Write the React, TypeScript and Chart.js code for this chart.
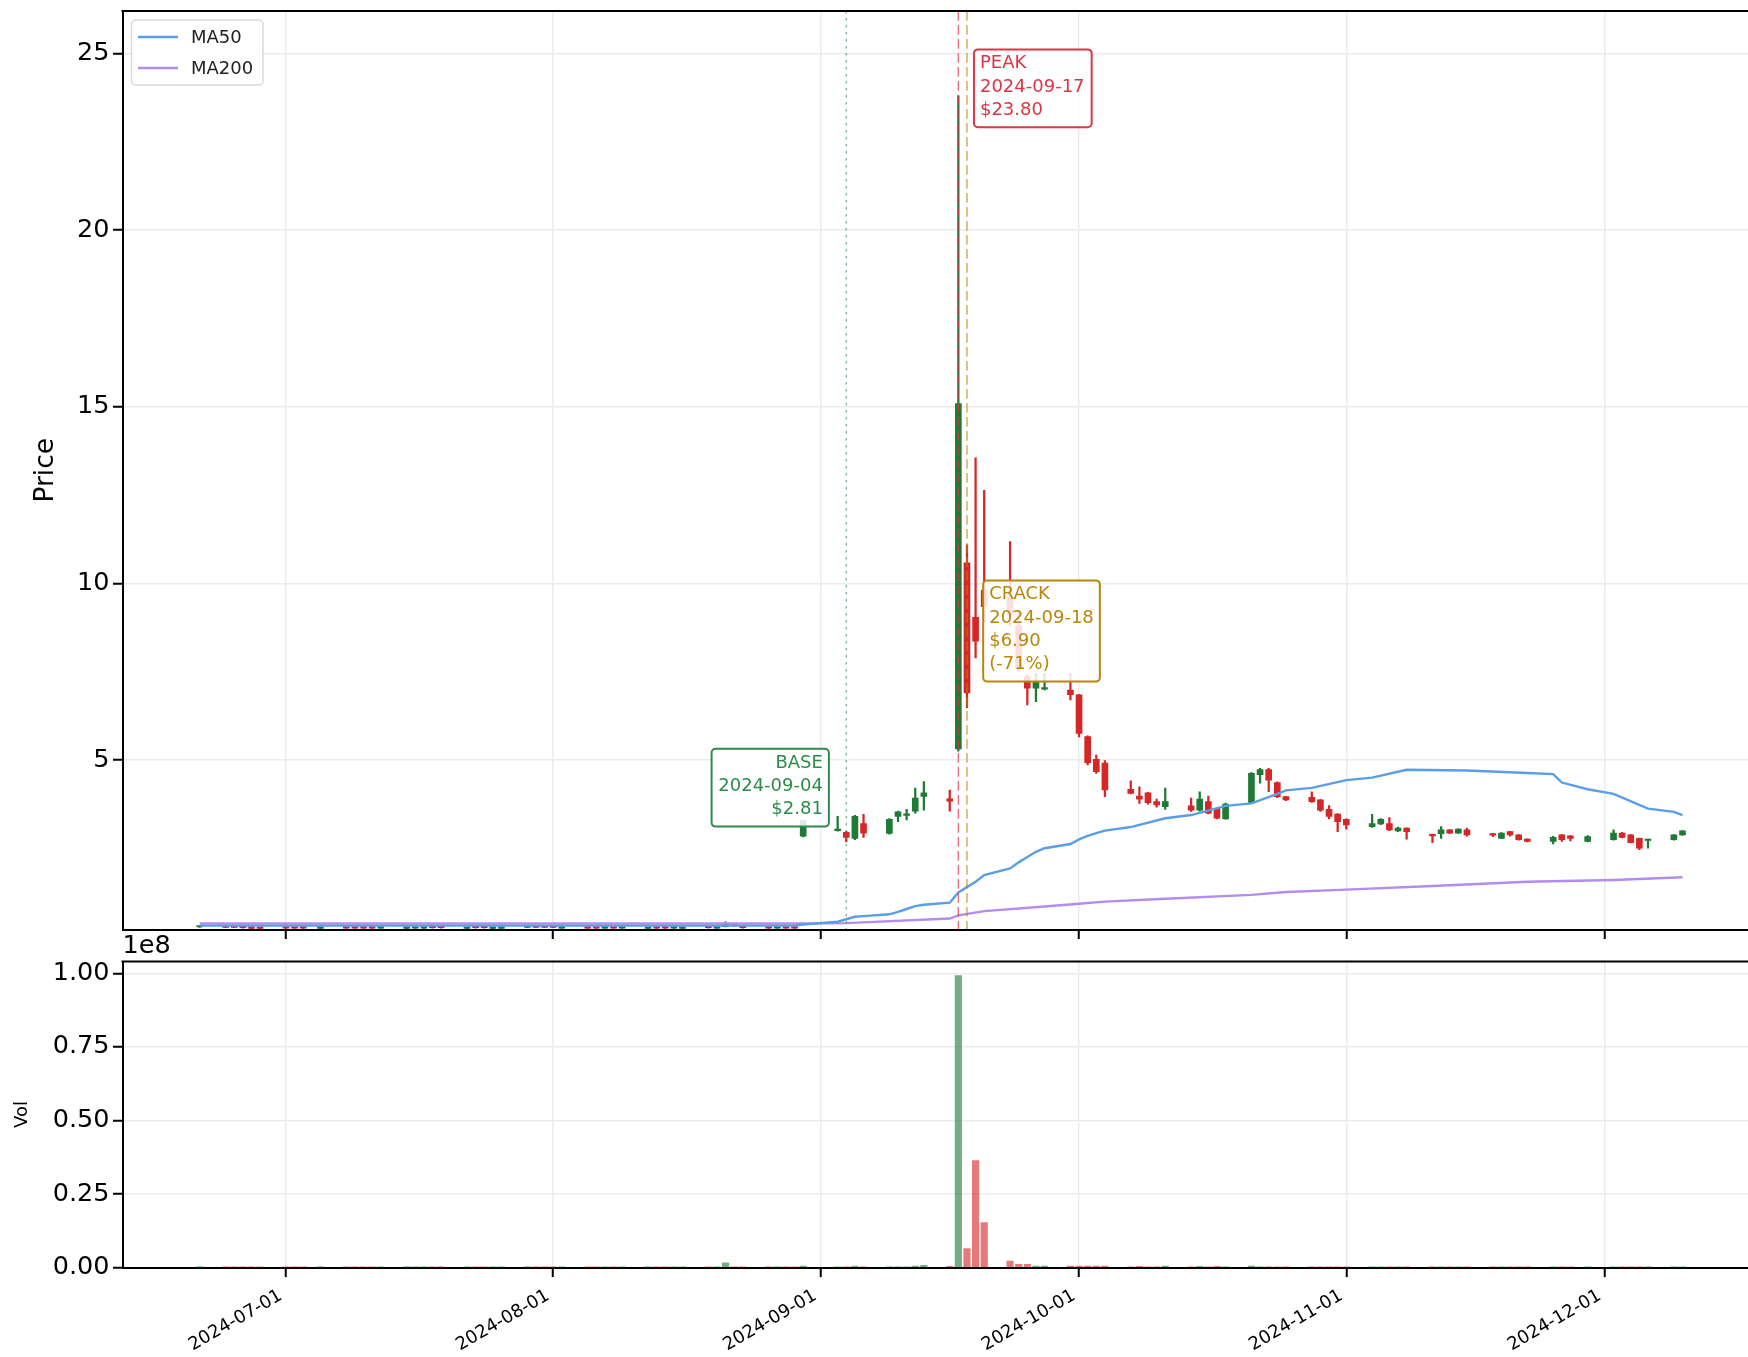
import React, { useEffect, useRef } from 'react';
import { Chart, registerables } from 'chart.js';
Chart.register(...registerables);

const W = 1748;
const H = 1357;
const FONT = "'DejaVu Sans', sans-serif";

// ---------------- data ----------------
const dates = [
  '2024-06-21', '2024-06-24', '2024-06-25', '2024-06-26', '2024-06-27', '2024-06-28',
  '2024-07-01', '2024-07-02', '2024-07-03', '2024-07-05',
  '2024-07-08', '2024-07-09', '2024-07-10', '2024-07-11', '2024-07-12',
  '2024-07-15', '2024-07-16', '2024-07-17', '2024-07-18', '2024-07-19',
  '2024-07-22', '2024-07-23', '2024-07-24', '2024-07-25', '2024-07-26',
  '2024-07-29', '2024-07-30', '2024-07-31', '2024-08-01', '2024-08-02',
  '2024-08-05', '2024-08-06', '2024-08-07', '2024-08-08', '2024-08-09',
  '2024-08-12', '2024-08-13', '2024-08-14', '2024-08-15', '2024-08-16',
  '2024-08-19', '2024-08-20', '2024-08-21', '2024-08-22', '2024-08-23',
  '2024-08-26', '2024-08-27', '2024-08-28', '2024-08-29', '2024-08-30',
  '2024-09-03', '2024-09-04', '2024-09-05', '2024-09-06',
  '2024-09-09', '2024-09-10', '2024-09-11', '2024-09-12', '2024-09-13',
  '2024-09-16', '2024-09-17', '2024-09-18', '2024-09-19', '2024-09-20',
  '2024-09-23', '2024-09-24', '2024-09-25', '2024-09-26', '2024-09-27',
  '2024-09-30', '2024-10-01', '2024-10-02', '2024-10-03', '2024-10-04',
  '2024-10-07', '2024-10-08', '2024-10-09', '2024-10-10', '2024-10-11',
  '2024-10-14', '2024-10-15', '2024-10-16', '2024-10-17', '2024-10-18',
  '2024-10-21', '2024-10-22', '2024-10-23', '2024-10-24', '2024-10-25',
  '2024-10-28', '2024-10-29', '2024-10-30', '2024-10-31', '2024-11-01',
  '2024-11-04', '2024-11-05', '2024-11-06', '2024-11-07', '2024-11-08',
  '2024-11-11', '2024-11-12', '2024-11-13', '2024-11-14', '2024-11-15',
  '2024-11-18', '2024-11-19', '2024-11-20', '2024-11-21', '2024-11-22',
  '2024-11-25', '2024-11-26', '2024-11-27', '2024-11-29',
  '2024-12-02', '2024-12-03', '2024-12-04', '2024-12-05', '2024-12-06',
  '2024-12-09', '2024-12-10',
];

const opens = [
  0.27, 0.28, 0.27, 0.27, 0.27, 0.25,
  0.26, 0.26, 0.26, 0.23,
  0.27, 0.27, 0.26, 0.26, 0.24,
  0.23, 0.24, 0.24, 0.26, 0.26,
  0.23, 0.26, 0.26, 0.23, 0.23,
  0.26, 0.28, 0.27, 0.27, 0.24,
  0.27, 0.26, 0.24, 0.26, 0.24,
  0.23, 0.26, 0.26, 0.24, 0.23,
  0.27, 0.24, 0.28, 0.33, 0.27,
  0.26, 0.24, 0.26, 0.26, 2.84,
  3.00, 2.95, 2.78, 3.20,
  2.92, 3.40, 3.43, 3.55, 3.97,
  3.90, 5.31, 10.58, 9.04, 9.81,
  9.60, 8.80, 7.36, 7.03, 7.00,
  6.98, 6.84, 5.66, 5.02, 4.91,
  4.17, 3.98, 4.07, 3.82, 3.68,
  3.70, 3.58, 3.82, 3.63, 3.33,
  3.79, 4.58, 4.73, 4.36, 3.96,
  3.94, 3.87, 3.60, 3.47, 3.32,
  3.11, 3.19, 3.20, 2.99, 3.07,
  2.89, 2.91, 3.02, 2.93, 3.02,
  2.90, 2.78, 2.97, 2.88, 2.76,
  2.69, 2.88, 2.85, 2.69,
  2.74, 2.93, 2.88, 2.78, 2.72,
  2.74, 2.88,
];

const highs = [
  0.29, 0.29, 0.28, 0.28, 0.28, 0.26,
  0.27, 0.27, 0.27, 0.27,
  0.28, 0.28, 0.27, 0.28, 0.26,
  0.27, 0.27, 0.27, 0.28, 0.28,
  0.27, 0.27, 0.27, 0.27, 0.27,
  0.29, 0.29, 0.28, 0.28, 0.27,
  0.28, 0.27, 0.27, 0.27, 0.26,
  0.26, 0.27, 0.27, 0.26, 0.26,
  0.28, 0.28, 0.42, 0.35, 0.28,
  0.27, 0.26, 0.27, 0.27, 3.30,
  3.40, 2.98, 3.43, 3.46,
  3.34, 3.55, 3.60, 4.20, 4.39,
  4.15, 23.80, 11.09, 13.55, 12.63,
  11.18, 9.20, 7.40, 7.45, 7.45,
  7.45, 6.85, 5.68, 5.14, 4.98,
  4.41, 4.24, 4.08, 3.89, 4.20,
  3.92, 4.10, 3.98, 3.64, 3.78,
  4.64, 4.76, 4.76, 4.38, 3.97,
  4.10, 3.88, 3.71, 3.48, 3.33,
  3.46, 3.34, 3.37, 3.10, 3.08,
  2.90, 3.11, 3.03, 3.05, 3.07,
  2.92, 2.94, 2.98, 2.89, 2.77,
  2.84, 2.89, 2.86, 2.86,
  3.02, 2.95, 2.89, 2.79, 2.76,
  2.89, 3.00,
];

const lows = [
  0.26, 0.25, 0.25, 0.24, 0.22, 0.22,
  0.23, 0.23, 0.23, 0.22,
  0.23, 0.23, 0.23, 0.23, 0.23,
  0.22, 0.23, 0.23, 0.24, 0.24,
  0.22, 0.24, 0.24, 0.22, 0.22,
  0.25, 0.25, 0.25, 0.25, 0.23,
  0.23, 0.23, 0.23, 0.23, 0.23,
  0.22, 0.23, 0.23, 0.23, 0.22,
  0.24, 0.23, 0.27, 0.29, 0.24,
  0.23, 0.23, 0.23, 0.23, 2.82,
  2.98, 2.68, 2.74, 2.81,
  2.90, 3.25, 3.30, 3.49, 3.58,
  3.55, 5.25, 6.48, 7.89, 8.90,
  8.80, 7.50, 6.56, 6.65, 6.98,
  6.70, 5.65, 4.86, 4.62, 3.96,
  4.04, 3.77, 3.75, 3.66, 3.60,
  3.54, 3.55, 3.47, 3.33, 3.32,
  3.78, 4.34, 4.10, 3.93, 3.85,
  3.80, 3.54, 3.33, 2.97, 3.04,
  3.09, 3.17, 3.00, 2.97, 2.76,
  2.66, 2.78, 2.92, 2.92, 2.84,
  2.83, 2.77, 2.84, 2.73, 2.68,
  2.62, 2.69, 2.71, 2.68,
  2.73, 2.79, 2.65, 2.46, 2.50,
  2.73, 2.86,
];

const closes = [
  0.28, 0.26, 0.26, 0.25, 0.23, 0.23,
  0.24, 0.24, 0.24, 0.26,
  0.24, 0.24, 0.24, 0.24, 0.25,
  0.26, 0.26, 0.26, 0.25, 0.25,
  0.26, 0.25, 0.25, 0.26, 0.26,
  0.28, 0.26, 0.26, 0.26, 0.26,
  0.24, 0.24, 0.26, 0.24, 0.25,
  0.25, 0.24, 0.24, 0.25, 0.25,
  0.25, 0.27, 0.36, 0.30, 0.25,
  0.24, 0.25, 0.24, 0.24, 3.28,
  3.03, 2.81, 3.40, 2.93,
  3.32, 3.53, 3.47, 3.92, 4.07,
  3.83, 15.09, 6.90, 8.36, 9.34,
  9.10, 7.60, 7.03, 7.22, 7.05,
  6.85, 5.75, 4.92, 4.67, 4.15,
  4.05, 3.89, 3.79, 3.73, 3.82,
  3.58, 3.89, 3.49, 3.35, 3.75,
  4.62, 4.73, 4.43, 3.96, 3.87,
  3.82, 3.58, 3.40, 3.25, 3.16,
  3.20, 3.32, 3.02, 3.07, 2.97,
  2.85, 3.02, 2.93, 3.04, 2.88,
  2.87, 2.93, 2.88, 2.74, 2.69,
  2.81, 2.74, 2.78, 2.83,
  2.93, 2.81, 2.66, 2.50, 2.75,
  2.88, 2.99,
];

const volumes = [
  60000, 50000, 40000, 50000, 70000, 50000,
  50000, 40000, 40000, 60000,
  50000, 50000, 40000, 40000, 60000,
  50000, 50000, 50000, 40000, 40000,
  60000, 50000, 40000, 50000, 60000,
  50000, 50000, 40000, 40000, 60000,
  50000, 50000, 60000, 40000, 50000,
  60000, 50000, 40000, 50000, 50000,
  50000, 100000, 1600000, 300000, 60000,
  50000, 50000, 40000, 50000, 500000,
  150000, 200000, 500000, 200000,
  200000, 200000, 150000, 500000, 800000,
  400000, 99200000, 6500000, 36400000, 15300000,
  2200000, 1100000, 1100000, 500000, 500000,
  500000, 500000, 500000, 500000, 500000,
  200000, 400000, 200000, 150000, 500000,
  200000, 400000, 200000, 400000, 200000,
  500000, 200000, 150000, 150000, 100000,
  150000, 100000, 80000, 150000, 100000,
  150000, 80000, 100000, 80000, 100000,
  80000, 100000, 80000, 80000, 80000,
  80000, 80000, 80000, 80000, 80000,
  80000, 80000, 80000, 80000,
  80000, 80000, 80000, 100000, 80000,
  80000, 100000,
];

const ma50Dates = [
  '2024-06-21', '2024-07-15', '2024-08-09', '2024-08-29', '2024-08-30', '2024-09-03',
  '2024-09-05', '2024-09-06', '2024-09-09', '2024-09-10', '2024-09-11', '2024-09-12',
  '2024-09-13', '2024-09-16', '2024-09-17', '2024-09-18', '2024-09-19', '2024-09-20',
  '2024-09-23', '2024-09-24', '2024-09-25', '2024-09-26', '2024-09-27', '2024-09-30',
  '2024-10-01', '2024-10-02', '2024-10-03', '2024-10-04', '2024-10-07', '2024-10-11',
  '2024-10-14', '2024-10-18', '2024-10-21', '2024-10-24', '2024-10-25', '2024-10-28',
  '2024-11-01', '2024-11-04', '2024-11-08', '2024-11-15', '2024-11-22', '2024-11-25',
  '2024-11-26', '2024-11-29', '2024-12-02', '2024-12-06', '2024-12-09', '2024-12-10',
];
const ma50Values = [
  0.31, 0.31, 0.31, 0.31, 0.34, 0.42,
  0.56, 0.58, 0.63, 0.70, 0.78, 0.86,
  0.90, 0.96, 1.25, 1.40, 1.55, 1.74,
  1.93, 2.10, 2.25, 2.40, 2.50, 2.62,
  2.75, 2.85, 2.93, 3.00, 3.10, 3.35,
  3.44, 3.70, 3.77, 4.04, 4.14, 4.21,
  4.43, 4.50, 4.72, 4.70, 4.63, 4.60,
  4.36, 4.17, 4.04, 3.62, 3.53, 3.44,
];

const ma200Dates = [
  '2024-06-21', '2024-07-15', '2024-08-09', '2024-08-29', '2024-09-04', '2024-09-16',
  '2024-09-17', '2024-09-20', '2024-09-27', '2024-10-01', '2024-10-04', '2024-10-11',
  '2024-10-21', '2024-10-25', '2024-11-01', '2024-11-11', '2024-11-22', '2024-12-02',
  '2024-12-10',
];
const ma200Values = [
  0.37, 0.37, 0.37, 0.37, 0.38, 0.51,
  0.60, 0.72, 0.85, 0.93, 0.99, 1.07,
  1.18, 1.26, 1.33, 1.43, 1.55, 1.60,
  1.68,
];

const priceTicks = [5, 10, 15, 20, 25];
const volumeTicks = [0, 25000000, 50000000, 75000000, 100000000];
const monthTickDates = ['2024-07-01', '2024-08-01', '2024-09-01', '2024-10-01', '2024-11-01', '2024-12-01'];
const monthTickLabels = ['2024-07-01', '2024-08-01', '2024-09-01', '2024-10-01', '2024-11-01', '2024-12-01'];

const eventNames = ['BASE', 'PEAK', 'CRACK'];
const eventDates = ['2024-09-04', '2024-09-17', '2024-09-18'];
const eventPrices = [2.81, 23.8, 6.9];
const eventNotes = ['', '', '(-71%)'];

const legendLabels = ['MA50', 'MA200'];

// ---------------- styling ----------------
const GREEN = '#1f7a36';
const RED = '#d62728';
const GREEN_VOL = 'rgba(31,122,54,0.62)';
const RED_VOL = 'rgba(214,39,40,0.62)';
const MA50_COLOR = '#5a9ee8';
const MA200_COLOR = '#b48cf0';
const GRID = '#ebebeb';
const EVENT_COLORS = ['#2e8b4a', '#dc3545', '#b8860b'];

const X_MIN = -18.96;
const X_MAX = 169.6;

function dayNum(s: string): number {
  const [y, m, d] = s.split('-').map(Number);
  return (Date.UTC(y, m - 1, d) - Date.UTC(2024, 6, 1)) / 86400000;
}

const monthTickDays = monthTickDates.map(dayNum);

function gridOpts() {
  return {
    color: GRID,
    lineWidth: 1.5,
    drawTicks: true,
    tickLength: 9.5,
    tickColor: '#000',
    tickWidth: 2,
    offset: false,
  };
}

function eventX(chart: any, i: number) {
  return chart.scales.x.getPixelForValue(dayNum(eventDates[i]));
}

function drawBox(ctx: CanvasRenderingContext2D, lines: string[], left: number, top: number, w: number, h: number, align: 'left' | 'right', color: string) {
  ctx.save();
  ctx.beginPath();
  (ctx as any).roundRect(left, top, w, h, 4);
  ctx.fillStyle = 'rgba(255,255,255,0.85)';
  ctx.fill();
  ctx.lineWidth = 2;
  ctx.strokeStyle = color;
  ctx.stroke();
  ctx.fillStyle = color;
  ctx.font = `18px ${FONT}`;
  ctx.textBaseline = 'alphabetic';
  ctx.textAlign = align;
  const tx = align === 'left' ? left + 6 : left + w - 6;
  lines.forEach((ln, k) => {
    ctx.fillText(ln, tx, top + 19 + k * 23.3);
  });
  ctx.restore();
}

const pricePlugin = {
  id: 'priceExtras',
  afterDatasetsDraw(chart: any) {
    const { ctx, chartArea } = chart;
    const ys = chart.scales.y;
    ctx.save();
    ctx.beginPath();
    ctx.rect(chartArea.left, chartArea.top, chartArea.right - chartArea.left, chartArea.bottom - chartArea.top);
    ctx.clip();
    const styles = [
      { color: 'rgba(46,139,74,0.6)', dash: [2.6, 4.4] },
      { color: 'rgba(220,53,69,0.7)', dash: [9.8, 4.2] },
      { color: 'rgba(184,134,11,0.7)', dash: [9.8, 4.2] },
    ];
    eventDates.forEach((_, i) => {
      const x = eventX(chart, i);
      ctx.beginPath();
      ctx.setLineDash(styles[i].dash);
      ctx.lineWidth = 1.4;
      ctx.strokeStyle = styles[i].color;
      ctx.moveTo(x, chartArea.top);
      ctx.lineTo(x, chartArea.bottom);
      ctx.stroke();
    });
    ctx.setLineDash([]);
    ctx.restore();

    eventNames.forEach((name, i) => {
      const px = eventX(chart, i);
      const py = ys.getPixelForValue(eventPrices[i]);
      const lines = [name, eventDates[i], '$' + eventPrices[i].toFixed(2)];
      if (eventNotes[i]) lines.push(eventNotes[i]);
      const h = lines.length * 23.3 + 8;
      if (name === 'BASE') {
        drawBox(ctx, lines, px - 17.4 - 117.3, py - 10.7 - h, 117.3, h, 'right', EVENT_COLORS[i]);
      } else if (name === 'PEAK') {
        drawBox(ctx, lines, px + 15.6, py - 46.4, 117.7, h, 'left', EVENT_COLORS[i]);
      } else {
        drawBox(ctx, lines, px + 16.2, py - 11.2 - h, 116.7, h, 'left', EVENT_COLORS[i]);
      }
    });

    ctx.save();
    ctx.beginPath();
    ctx.roundRect(131.5, 20, 131.5, 65, 4);
    ctx.fillStyle = 'rgba(255,255,255,0.85)';
    ctx.fill();
    ctx.lineWidth = 1.5;
    ctx.strokeStyle = '#d9d9d9';
    ctx.stroke();
    const lcolors = [MA50_COLOR, MA200_COLOR];
    legendLabels.forEach((lab, k) => {
      const y = 37 + k * 31;
      ctx.beginPath();
      ctx.strokeStyle = lcolors[k];
      ctx.lineWidth = 2.4;
      ctx.moveTo(138, y);
      ctx.lineTo(178, y);
      ctx.stroke();
      ctx.fillStyle = '#222';
      ctx.font = `18px ${FONT}`;
      ctx.textAlign = 'left';
      ctx.textBaseline = 'middle';
      ctx.fillText(lab, 191, y + 1);
    });
    ctx.restore();
  },
  afterDraw(chart: any) {
    const { ctx, chartArea } = chart;
    ctx.save();
    ctx.strokeStyle = '#000';
    ctx.lineWidth = 2;
    ctx.beginPath();
    ctx.moveTo(chartArea.left - 1, chartArea.top);
    ctx.lineTo(chartArea.right, chartArea.top);
    ctx.stroke();
    ctx.restore();
  },
};

const volumePlugin = {
  id: 'volExtras',
  afterDraw(chart: any) {
    const { ctx, chartArea } = chart;
    ctx.save();
    ctx.strokeStyle = '#000';
    ctx.lineWidth = 2;
    ctx.beginPath();
    ctx.moveTo(chartArea.left - 1, chartArea.top);
    ctx.lineTo(chartArea.right, chartArea.top);
    ctx.stroke();
    ctx.fillStyle = '#000';
    ctx.font = `25.5px ${FONT}`;
    ctx.textAlign = 'left';
    ctx.textBaseline = 'alphabetic';
    ctx.fillText('1e8', chartArea.left, chartArea.top - 9);
    ctx.restore();
  },
};

function makePriceConfig(): any {
  const colors = dates.map((_, i) => (closes[i] >= opens[i] ? GREEN : RED));
  return {
    type: 'bar',
    data: {
      datasets: [
        {
          type: 'line', label: legendLabels[0],
          data: ma50Dates.map((d, i) => ({ x: dayNum(d), y: ma50Values[i] })),
          borderColor: MA50_COLOR, borderWidth: 2.4, pointRadius: 0, tension: 0, order: 0,
        },
        {
          type: 'line', label: legendLabels[1],
          data: ma200Dates.map((d, i) => ({ x: dayNum(d), y: ma200Values[i] })),
          borderColor: MA200_COLOR, borderWidth: 2.4, pointRadius: 0, tension: 0, order: 0,
        },
        {
          type: 'bar', label: 'wick',
          data: dates.map((d, i) => ({ x: dayNum(d), y: [lows[i], highs[i]] })),
          backgroundColor: colors, barThickness: 1.6, grouped: false, order: 2, borderWidth: 0,
        },
        {
          type: 'bar', label: 'body',
          data: dates.map((d, i) => ({ x: dayNum(d), y: [Math.min(opens[i], closes[i]), Math.max(opens[i], closes[i])] })),
          backgroundColor: colors, barThickness: 6, grouped: false, order: 1, borderWidth: 0, minBarLength: 1.5,
        },
      ],
    },
    options: {
      responsive: false,
      animation: false,
      devicePixelRatio: 1,
      layout: { padding: { left: 0, right: 0, top: 11, bottom: H - 929.5 - 10 } },
      plugins: { legend: { display: false }, tooltip: { enabled: false } },
      scales: {
        x: {
          type: 'linear', min: X_MIN, max: X_MAX, offset: false,
          grid: gridOpts(),
          border: { display: true, color: '#000', width: 2 },
          ticks: { display: false },
          afterBuildTicks: (s: any) => { s.ticks = monthTickDays.map((v) => ({ value: v })); },
          afterFit: (s: any) => { s.height = 10; s.paddingLeft = 0; s.paddingRight = 0; },
        },
        y: {
          type: 'linear', min: 0.2, max: 26.2,
          grid: gridOpts(),
          border: { display: true, color: '#000', width: 2 },
          ticks: { font: { family: FONT, size: 25.5 }, color: '#000', padding: 3.5, callback: (v: number) => String(v) },
          afterBuildTicks: (s: any) => { s.ticks = priceTicks.map((v) => ({ value: v })); },
          title: { display: true, text: 'Price', font: { family: FONT, size: 26.5 }, color: '#000', padding: { top: 30, bottom: 0 } },
          afterFit: (s: any) => { s.width = 122.5; s.paddingTop = 0; s.paddingBottom = 0; },
        },
      },
    },
    plugins: [pricePlugin],
  };
}

function makeVolumeConfig(): any {
  const colors = dates.map((_, i) => (closes[i] >= opens[i] ? GREEN_VOL : RED_VOL));
  return {
    type: 'bar',
    data: {
      datasets: [
        {
          type: 'bar', label: 'Vol',
          data: dates.map((d, i) => ({ x: dayNum(d), y: volumes[i] })),
          backgroundColor: colors, barThickness: 6.5, grouped: false, borderWidth: 0,
        },
      ],
    },
    options: {
      responsive: false,
      animation: false,
      devicePixelRatio: 1,
      layout: { padding: { left: 0, right: 0, top: 961.5, bottom: 0 } },
      plugins: { legend: { display: false }, tooltip: { enabled: false } },
      scales: {
        x: {
          type: 'linear', min: X_MIN, max: X_MAX, offset: false,
          grid: gridOpts(),
          border: { display: true, color: '#000', width: 2 },
          ticks: {
            font: { family: FONT, size: 18 }, color: '#000', padding: 8,
            maxRotation: 30, minRotation: 30, autoSkip: false, labelOffset: -5,
            callback: (v: number) => {
              const k = monthTickDays.indexOf(v);
              return k >= 0 ? monthTickLabels[k] : '';
            },
          },
          afterBuildTicks: (s: any) => { s.ticks = monthTickDays.map((v) => ({ value: v })); },
          afterFit: (s: any) => { s.height = H - 1267.6; s.paddingLeft = 0; s.paddingRight = 0; },
        },
        y: {
          type: 'linear', min: 0, max: 104000000,
          grid: gridOpts(),
          border: { display: true, color: '#000', width: 2 },
          ticks: { font: { family: FONT, size: 25.5 }, color: '#000', padding: 3.5, callback: (v: number) => (v / 1e8).toFixed(2) },
          afterBuildTicks: (s: any) => { s.ticks = volumeTicks.map((v) => ({ value: v })); },
          title: { display: true, text: 'Vol', font: { family: FONT, size: 18 }, color: '#000', padding: { top: 12, bottom: 0 } },
          afterFit: (s: any) => { s.width = 122.5; s.paddingTop = 0; s.paddingBottom = 0; },
        },
      },
    },
    plugins: [volumePlugin],
  };
}

export default function App() {
  const priceRef = useRef<HTMLCanvasElement>(null);
  const volRef = useRef<HTMLCanvasElement>(null);
  useEffect(() => {
    const c1 = new Chart(priceRef.current as HTMLCanvasElement, makePriceConfig());
    const c2 = new Chart(volRef.current as HTMLCanvasElement, makeVolumeConfig());
    return () => {
      c1.destroy();
      c2.destroy();
    };
  }, []);
  return (
    <div style={{ position: 'absolute', left: 0, top: 0, width: W, height: H, background: '#fff', overflow: 'hidden' }}>
      <canvas ref={priceRef} width={W} height={H} style={{ position: 'absolute', left: 0, top: 0 }} />
      <canvas ref={volRef} width={W} height={H} style={{ position: 'absolute', left: 0, top: 0 }} />
    </div>
  );
}
